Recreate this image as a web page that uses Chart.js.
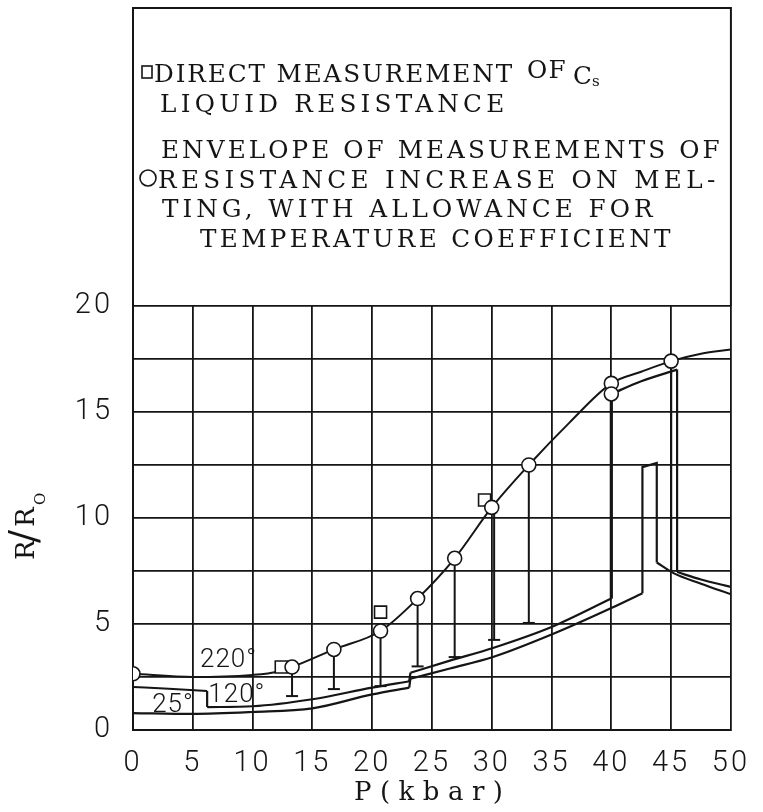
<!DOCTYPE html>
<html>
<head>
<meta charset="utf-8">
<script src="https://cdn.jsdelivr.net/npm/chart.js@4/dist/chart.umd.min.js"></script>
<style>
  html, body { margin: 0; padding: 0; background: #fff; }
  #wrap { width: 763px; height: 812px; position: relative; }
</style>
</head>
<body>
<div id="wrap"><canvas id="c" width="763" height="812"></canvas></div>
<script>
// ---- tick labels ----
const pressureTicks = [0, 5, 10, 15, 20, 25, 30, 35, 40, 45, 50];
const ratioTicks = [0, 5, 10, 15, 20];

// ---- 220° envelope curve through the melting points ----
const envelopeP = [0, 5, 10, 12.1, 13.3, 16.8, 20.7, 23.8, 26.9, 30.0, 33.1, 36.5, 40, 42.5, 45, 47.5, 50];
const envelopeR = [2.65, 2.5, 2.6, 2.75, 2.97, 3.8, 4.67, 6.2, 8.1, 10.5, 12.5, 14.5, 16.35, 16.9, 17.4, 17.75, 17.95];

// ---- circles: resistance increase on melting ----
const meltP = [0, 13.3, 16.8, 20.7, 23.8, 26.9, 30.0, 33.1, 40, 40, 45];
const meltR = [2.65, 2.97, 3.8, 4.67, 6.2, 8.1, 10.5, 12.5, 16.35, 15.85, 17.4];

// ---- squares: direct measurement of Cs liquid resistance ----
const directP = [12.4, 20.7, 29.4];
const directR = [2.97, 5.56, 10.85];

// ---- vertical bars below the melting points ----
const barP   = [13.3, 16.8, 20.7, 23.8, 26.9, 30.2, 33.1];
const barTop = [2.97, 3.8, 4.67, 6.2, 8.1, 10.3, 12.5];
const barLow = [1.6, 1.93, 2.07, 3.0, 3.44, 4.25, 5.05];

// ---- 25° curve (upper left) ----
const c25P = [0, 3, 6.2];
const c25R = [2.03, 1.95, 1.84];

// ---- 120° band, upper line ----
const bandUpAP = [6.2, 10, 15, 20, 23.1];
const bandUpAR = [1.08, 1.12, 1.45, 2.0, 2.3];
const bandUpBP = [23.2, 26.5, 30.1, 35, 40];
const bandUpBR = [2.7, 3.27, 3.87, 4.86, 6.2];

// ---- 120° band, lower line ----
const bandLoAP = [0, 5, 10, 15, 20, 23.1];
const bandLoAR = [0.8, 0.76, 0.85, 1.02, 1.68, 2.0];
const bandLoBP = [23.2, 26.5, 30.1, 35, 40, 42.6];
const bandLoBR = [2.42, 2.9, 3.44, 4.5, 5.75, 6.45];
const bandLoCP = [43.8, 45.2, 47.5, 50];
const bandLoCR = [7.9, 7.4, 6.9, 6.4];

// ---- upper right branch ----
const branchAP = [40, 42.5, 45.5];
const branchAR = [15.85, 16.45, 17.0];
const branchBP = [45.5, 47.5, 50];
const branchBR = [7.45, 7.1, 6.75];

// ---- straight connecting segments (steps and verticals) ----
const stepP = [[6.2, 6.2], [23.1, 23.2], [23.1, 23.2], [42.6, 42.6, 43.8, 43.8], [45.5, 45.5], [45, 45]];
const stepR = [[1.84, 1.08], [2.3, 2.7], [2.0, 2.42], [6.45, 12.4, 12.6, 7.9], [17.0, 7.45], [17.4, 7.45]];

// ---- heavy drop at 40 kbar ----
const dropP = [40, 40];
const dropR = [6.2, 15.85];

// ---- curve labels ----
const curveLabels = ['220°', '120°', '25°'];
const curveLabelP = [5.6, 6.3, 1.6];
const curveLabelR = [2.97, 1.32, 0.85];

const INK = '#151515';
const SANS = 'Roboto, "Liberation Sans", sans-serif';
const TYPE = '"DejaVu Serif", "Liberation Serif", serif';

// font size giving the wanted cap height
const capRatio = (() => {
  const c = document.createElement('canvas').getContext('2d');
  c.font = '100px ' + TYPE;
  const m = c.measureText('H');
  return (m.actualBoundingBoxAscent || 73) / 100;
})();
const sizeFor = cap => Math.round(cap / capRatio * 10) / 10;

const pts = (P, R) => P.map((p, i) => ({ x: p, y: R[i] }));

function smooth(P, R, width) {
  return {
    data: pts(P, R), borderColor: INK, borderWidth: width || 2, pointRadius: 0,
    cubicInterpolationMode: 'monotone', fill: false, order: 2
  };
}

// polylines separated by gaps
const stepData = [];
stepP.forEach((seg, k) => {
  seg.forEach((p, i) => stepData.push({ x: p, y: stepR[k][i] }));
  stepData.push({ x: seg[seg.length - 1], y: null });
});

// bars with a cap at the lower end
const barData = [];
barP.forEach((p, i) => {
  barData.push({ x: p, y: barTop[i], cap: false });
  barData.push({ x: p, y: barLow[i], cap: true });
  barData.push({ x: p, y: null, cap: false });
});

const datasets = [
  {
    data: pts(meltP, meltR), showLine: false, pointStyle: 'circle', pointRadius: 7,
    pointBackgroundColor: '#fff', pointBorderColor: INK, pointBorderWidth: 1.6, order: 0
  },
  {
    data: pts(directP, directR), showLine: false, pointStyle: 'rect', pointRadius: 8.5,
    pointBackgroundColor: '#fff', pointBorderColor: INK, pointBorderWidth: 1.6, order: 0
  },
  {
    data: barData, borderColor: INK, borderWidth: 2, tension: 0, spanGaps: false, order: 1,
    pointStyle: 'line', pointBorderColor: INK, pointBorderWidth: 2,
    pointRadius: c => (c.raw && c.raw.cap) ? 6 : 0
  },
  {
    data: stepData, borderColor: INK, borderWidth: 2.2, tension: 0, spanGaps: false,
    pointRadius: 0, order: 1
  },
  {
    data: pts(dropP, dropR), borderColor: INK, borderWidth: 3.2, tension: 0,
    pointRadius: 0, order: 1
  },
  smooth(envelopeP, envelopeR, 2),
  smooth(c25P, c25R, 2),
  smooth(bandUpAP, bandUpAR, 2.2),
  smooth(bandUpBP, bandUpBR, 2.2),
  smooth(bandLoAP, bandLoAR, 2.2),
  smooth(bandLoBP, bandLoBR, 2.2),
  smooth(bandLoCP, bandLoCR, 2.2),
  smooth(branchAP, branchAR, 2.2),
  smooth(branchBP, branchBR, 2.2)
];

// typewriter line: fixed average pitch per character
function typeLine(ctx, text, x, y, cap, pitch) {
  ctx.font = sizeFor(cap) + 'px ' + TYPE;
  ctx.letterSpacing = '0px';
  const natural = ctx.measureText(text).width / text.length;
  ctx.letterSpacing = (pitch - natural).toFixed(2) + 'px';
  ctx.fillText(text, x, y);
  ctx.letterSpacing = '0px';
}

const decorations = {
  id: 'decorations',
  beforeDraw(chart) {
    const ctx = chart.ctx;
    ctx.save();
    ctx.fillStyle = '#fff';
    ctx.fillRect(0, 0, chart.width, chart.height);
    ctx.restore();
    ctx.letterSpacing = '3px';
  },
  afterDraw(chart) {
    const ctx = chart.ctx;
    const { left, right, top } = chart.chartArea;
    const xs = chart.scales.x, ys = chart.scales.y;
    ctx.save();
    ctx.letterSpacing = '0px';
    ctx.strokeStyle = INK;
    ctx.fillStyle = INK;

    // key box above the plot
    ctx.lineWidth = 2;
    ctx.beginPath();
    ctx.moveTo(left, top);
    ctx.lineTo(left, 8);
    ctx.lineTo(right, 8);
    ctx.lineTo(right, top);
    ctx.stroke();

    ctx.textBaseline = 'alphabetic';
    ctx.textAlign = 'left';
    const cap = 18;
    // square key
    ctx.lineWidth = 1.6;
    ctx.strokeRect(142, 66, 10, 12);
    typeLine(ctx, 'DIRECT MEASUREMENT', 154, 82, cap, 20.0);
    typeLine(ctx, 'OF', 527, 78, cap, 20.0);
    typeLine(ctx, 'C', 573, 84, cap, 20.0);
    typeLine(ctx, 's', 592, 86, 11, 14);
    typeLine(ctx, 'LIQUID RESISTANCE', 160, 112, cap, 20.5);
    typeLine(ctx, 'ENVELOPE OF MEASUREMENTS OF', 161, 158, cap, 20.8);
    // circle key
    ctx.lineWidth = 1.6;
    ctx.beginPath();
    ctx.arc(148, 178, 8, 0, Math.PI * 2);
    ctx.stroke();
    typeLine(ctx, 'RESISTANCE INCREASE ON MEL-', 158, 188, cap, 20.8);
    typeLine(ctx, 'TING, WITH ALLOWANCE FOR', 162, 217, cap, 20.6);
    typeLine(ctx, 'TEMPERATURE COEFFICIENT', 200, 247, cap, 20.6);

    // curve labels
    ctx.font = '300 26px ' + SANS;
    ctx.letterSpacing = '1px';
    curveLabels.forEach((t, i) => {
      ctx.fillText(t, xs.getPixelForValue(curveLabelP[i]), ys.getPixelForValue(curveLabelR[i]));
    });
    ctx.letterSpacing = '0px';

    // x axis title
    typeLine(ctx, 'P(kbar)', 354, 800, 19, 22.5);

    // y axis title, rotated
    ctx.save();
    ctx.translate(34, 560);
    ctx.rotate(-Math.PI / 2);
    const big = sizeFor(19) + 'px ' + TYPE;
    ctx.font = big;
    ctx.fillText('R', 0, 0);
    ctx.font = sizeFor(28) + 'px ' + TYPE;
    ctx.fillText('/', 17, 3);
    ctx.font = big;
    ctx.fillText('R', 33, 0);
    ctx.font = sizeFor(11) + 'px ' + TYPE;
    ctx.fillText('O', 55, 11);
    ctx.restore();

    ctx.restore();
  }
};

new Chart(document.getElementById('c'), {
  type: 'line',
  data: { datasets },
  options: {
    responsive: false,
    animation: false,
    events: [],
    layout: { padding: { top: 306, right: 25, left: 0, bottom: 0 } },
    plugins: { legend: { display: false }, tooltip: { enabled: false } },
    scales: {
      x: {
        type: 'linear', min: 0, max: 50,
        ticks: {
          stepSize: 5, padding: 16, color: INK, maxRotation: 0, autoSkip: false,
          font: { family: SANS, size: 29, weight: '300' },
          callback: v => pressureTicks.includes(v) ? String(v) : ''
        },
        grid: { color: INK, lineWidth: 1.8, drawTicks: false },
        border: { color: INK, width: 2 },
        afterFit: s => { s.height = 82; }
      },
      y: {
        type: 'linear', min: 0, max: 20,
        ticks: {
          stepSize: 2.5, padding: 20, color: INK, autoSkip: false,
          font: { family: SANS, size: 29, weight: '300' },
          callback: v => ratioTicks.some(t => Math.abs(t - v) < 1e-6) ? String(v) : ''
        },
        grid: { color: INK, lineWidth: 1.8, drawTicks: false },
        border: { color: INK, width: 2 },
        afterFit: s => { s.width = 133; }
      }
    }
  },
  plugins: [decorations]
});
</script>
</body>
</html>
